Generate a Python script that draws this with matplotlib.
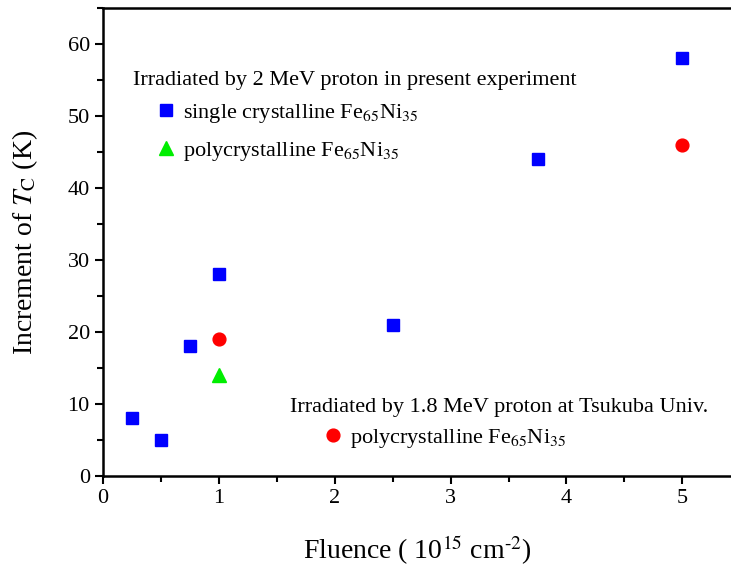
import matplotlib
matplotlib.use('Agg')
import matplotlib.pyplot as plt
from matplotlib.ticker import MultipleLocator

plt.rcParams['font.family'] = ['Liberation Serif', 'DejaVu Serif']
plt.rcParams['mathtext.fontset'] = 'stix'

# single crystalline Fe65Ni35, 2 MeV proton
single_x = [0.25, 0.5, 0.75, 1.0, 2.5, 3.75, 5.0]
single_y = [8, 5, 18, 28, 21, 44, 58]
# polycrystalline Fe65Ni35, 2 MeV proton
poly_x = [1.0]
poly_y = [14]
# polycrystalline Fe65Ni35, 1.8 MeV proton (Tsukuba)
tsukuba_x = [1.0, 5.0]
tsukuba_y = [19, 46]

alloy = 'Fe$_{65}$Ni$_{35}$'

fig = plt.figure(figsize=(7.31, 5.69), dpi=100)
ax = fig.add_axes([0.1409, 0.1634, 0.8591, 0.8226])

sq, = ax.plot(single_x, single_y, 's', color='#0000ff', ms=8.8, ls='none', clip_on=False)
tri, = ax.plot(poly_x, poly_y, '^', color='#00ee00', ms=10.5, ls='none', clip_on=False)
circ, = ax.plot(tsukuba_x, tsukuba_y, 'o', color='#ff0000', ms=9.2, ls='none', clip_on=False)

ax.set_xlim(0, 5.42)
ax.set_ylim(0, 65)
ax.xaxis.set_major_locator(MultipleLocator(1))
ax.xaxis.set_minor_locator(MultipleLocator(0.5))
ax.yaxis.set_major_locator(MultipleLocator(10))
ax.yaxis.set_minor_locator(MultipleLocator(5))
ax.tick_params(which='major', direction='out', length=6, width=1.5, labelsize=16)
ax.tick_params(which='minor', direction='out', length=4.5, width=1.5)
ax.spines['right'].set_visible(False)
for s in ['left', 'bottom', 'top']:
	ax.spines[s].set_linewidth(1.8)

ax.set_xlabel('Fluence ( 10$^{15}$ cm$^{\\text{-}2}$)', fontsize=20, labelpad=18)
ax.set_ylabel('Increment of $T_\\mathrm{C}$ (K)', fontsize=20, labelpad=20)

ax.text(0.048, 0.846, 'Irradiated by 2 MeV proton in present experiment',
	transform=ax.transAxes, fontsize=16, va='center', ha='left')
leg1 = ax.legend([sq, tri], ['single crystalline ' + alloy, 'polycrystalline ' + alloy],
	loc='upper left', bbox_to_anchor=(0.082, 0.80), frameon=False, fontsize=16,
	handlelength=1, handletextpad=0.3, borderpad=0, borderaxespad=0, labelspacing=0.7)
ax.add_artist(leg1)

ax.text(0.298, 0.147, 'Irradiated by 1.8 MeV proton at Tsukuba Univ.',
	transform=ax.transAxes, fontsize=16, va='center', ha='left')
ax.legend([circ], ['polycrystalline ' + alloy],
	loc='upper left', bbox_to_anchor=(0.348, 0.105), frameon=False, fontsize=16,
	handlelength=1, handletextpad=0.3, borderpad=0, borderaxespad=0)

fig.savefig('out.png', dpi=100)
